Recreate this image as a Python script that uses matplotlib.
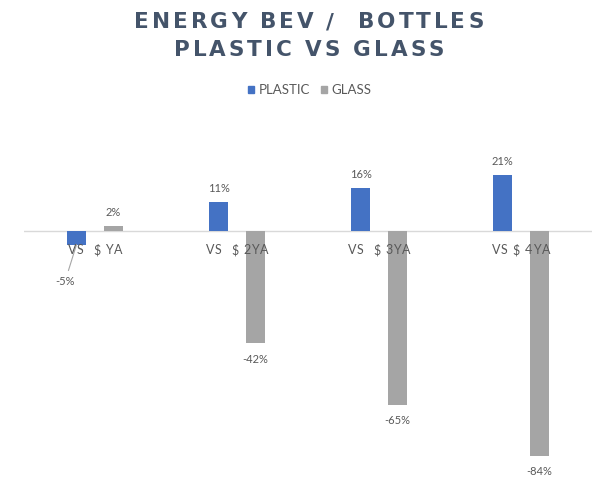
import matplotlib.pyplot as plt
from matplotlib.patches import Patch

# data
categories = ['VS  $ YA', 'VS  $ 2YA', 'VS  $ 3YA', 'VS $ 4YA']
plastic = [-5, 11, 16, 21]
glass = [2, -42, -65, -84]
title_lines = ['ENERGY BEV /  BOTTLES', 'PLASTIC VS GLASS']

W, H = 593, 478
fig = plt.figure(figsize=(W / 100, H / 100), dpi=100)
ax = fig.add_axes([24 / W, 17 / H, 568 / W, 310 / H])

BLUE = '#4472C4'
GREY = '#A5A5A5'
TXT = '#595959'


def spaced_text(x_px, y_px, s, spacing, **kw):
    """글자 간격을 두고 가운데 정렬된 텍스트 (픽셀 좌표, 위에서부터)"""
    r = fig.canvas.get_renderer()

    def width(t):
        tt = fig.text(0, 0, t, **kw)
        w = tt.get_window_extent(renderer=r).width
        tt.remove()
        return w

    bar = width('||')
    adv = [width('|' + c + '|') - bar for c in s]
    total = sum(adv) + spacing * (len(s) - 1)
    x = x_px - total / 2
    for c, a in zip(s, adv):
        if c != ' ':
            fig.text((x + a / 2) / W, 1 - y_px / H, c, ha='center', va='center', **kw)
        x += a + spacing


x = range(len(categories))
off, bw = 0.13, 0.134
ax.bar([i - off for i in x], plastic, width=bw, color=BLUE, zorder=2)
ax.bar([i + off for i in x], glass, width=bw, color=GREY, zorder=2)

ax.set_xlim(-0.5, 3.5)
ax.set_ylim(-86, 30)
ax.axhline(0, color='#D9D9D9', lw=1, zorder=1)
ax.axis('off')

lab = dict(fontsize=8, color=TXT, family='Lato')
for i, (p, g) in enumerate(zip(plastic, glass)):
    for xv, v in ((i - off, p), (i + off, g)):
        if xv == -off:
            # -5% 라벨은 지시선 포함
            ax.annotate(f'{v}%', xy=(xv, v), xytext=(-8.3, -26.6), textcoords='offset points',
                        ha='center', va='center',
                        arrowprops=dict(arrowstyle='-', color='#A6A6A6', lw=0.8,
                                        shrinkA=2, shrinkB=0), **lab)
            continue
        dy = 9.8 if v > 0 else -11.5
        ax.annotate(f'{v}%', xy=(xv, v), xytext=(0, dy), textcoords='offset points',
                    ha='center', va='center', **lab)

# 카테고리 라벨
for i, c in enumerate(categories):
    px = ax.transData.transform((i, 0))[0]
    spaced_text(px, 250, c, 0.9, fontsize=9, color=TXT, family='Lato')

# 제목
title_kw = dict(fontsize=15.5, fontweight='bold', color='#44546A', family='DejaVu Sans')
spaced_text(309, 22, title_lines[0], 2.9, **title_kw)
spaced_text(309, 50.5, title_lines[1], 2.9, **title_kw)

# 범례
handles = [Patch(color=BLUE, label='PLASTIC'), Patch(color=GREY, label='GLASS')]
leg = fig.legend(handles=handles, loc='center', bbox_to_anchor=(310 / W, 1 - 90 / H), ncol=2,
                 frameon=False, handlelength=0.45, handleheight=0.45, handletextpad=0.35,
                 columnspacing=0.85, prop={'family': 'Lato', 'size': 9.5})
for t in leg.get_texts():
    t.set_color(TXT)

fig.savefig('out.png', dpi=100)
